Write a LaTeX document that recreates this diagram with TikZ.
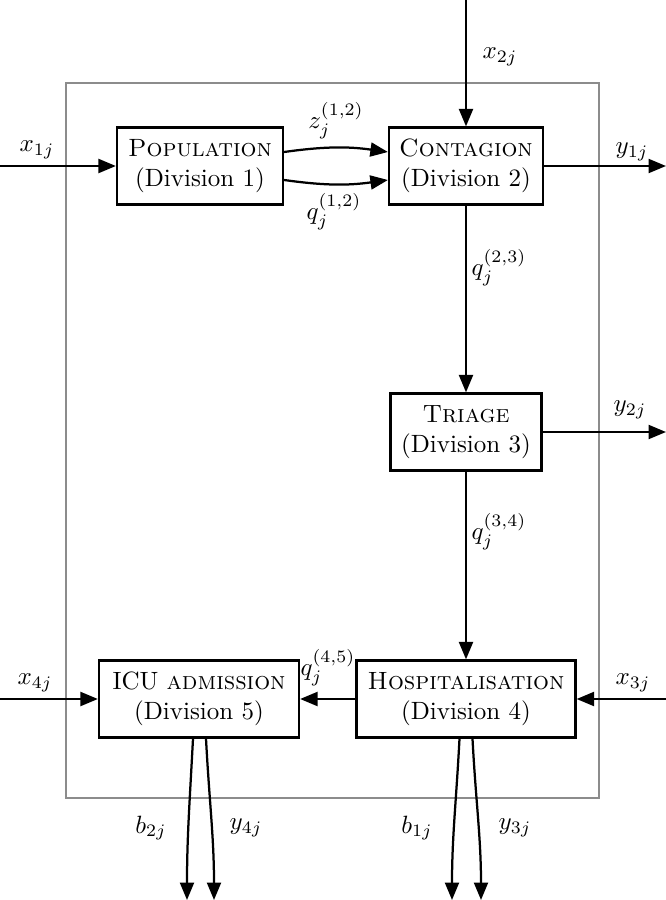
\documentclass[tikz,border=0pt]{standalone}
\usetikzlibrary{arrows.meta}
\begin{document}
\begin{tikzpicture}[x=0.4pt,y=-0.4pt,
  box/.style={draw,line width=0.9pt,align=center,inner xsep=3pt,inner ysep=4pt,minimum height=30.8pt},
  flow/.style={line width=0.9pt,-{Triangle[length=7pt,width=5.6pt]}},
  frame/.style={draw=black!45,line width=0.9pt},
  lab/.style={inner sep=1pt}]
\useasboundingbox (0,0) rectangle (666,900);
\draw[frame] (66,83) rectangle (599,798);
\node[box,minimum width=66.4pt] (pop) at (200,166) {\textsc{Population}\\(Division 1)};
\node[box,minimum width=61.6pt] (con) at (466,166) {\textsc{Contagion}\\(Division 2)};
\node[box,minimum width=60.4pt] (tri) at (466,432) {\textsc{Triage}\\(Division 3)};
\node[box,minimum width=87.6pt] (hos) at (466,699) {\textsc{Hospitalisation}\\(Division 4)};
\node[box,minimum width=80pt] (icu) at (199,699) {ICU \textsc{admission}\\(Division 5)};
\coordinate (x1) at (0,166);
\coordinate (x2) at (466,0);
\coordinate (y1) at (666,166);
\coordinate (y2) at (666,432);
\coordinate (x3) at (666,699);
\coordinate (x4) at (0,699);
\coordinate (b2) at (187,900);
\coordinate (y4) at (214,900);
\coordinate (b1) at (452,900);
\coordinate (y3) at (481,900);
\draw[flow] (x1) -- (pop);
\draw[flow] (x2) -- (con);
\draw[flow] (con) -- (y1);
\draw[flow] ([yshift=5.6pt]pop.east) to[bend left=8] ([yshift=5.6pt]con.west);
\draw[flow] ([yshift=-5.6pt]pop.east) to[bend right=8] ([yshift=-5.6pt]con.west);
\draw[flow] (con) -- (tri);
\draw[flow] (tri) -- (y2);
\draw[flow] (tri) -- (hos);
\draw[flow] (x3) -- (hos);
\draw[flow] (hos) -- (icu);
\draw[flow] (x4) -- (icu);
\draw[flow] ([xshift=-2.4pt]icu.south) to[out=-93,in=90] (b2);
\draw[flow] ([xshift=2.8pt]icu.south) to[out=-87,in=90] (y4);
\draw[flow] ([xshift=-2.6pt]hos.south) to[out=-93,in=90] (b1);
\draw[flow] ([xshift=2.6pt]hos.south) to[out=-87,in=90] (y3);
\node[lab] at (37,150) {$x_{1j}$};
\node[lab] at (500,57) {$x_{2j}$};
\node[lab] at (632,152) {$y_{1j}$};
\node[lab] at (336,121) {$z_j^{(1,2)}$};
\node[lab] at (334,212) {$q_j^{(1,2)}$};
\node[lab] at (499,268) {$q_j^{(2,3)}$};
\node[lab] at (630,410) {$y_{2j}$};
\node[lab] at (499,532) {$q_j^{(3,4)}$};
\node[lab] at (633,683) {$x_{3j}$};
\node[lab] at (328,668) {$q_j^{(4,5)}$};
\node[lab] at (35,683) {$x_{4j}$};
\node[lab] at (151,828) {$b_{2j}$};
\node[lab] at (246,828) {$y_{4j}$};
\node[lab] at (417,828) {$b_{1j}$};
\node[lab] at (515,828) {$y_{3j}$};
\end{tikzpicture}
\end{document}
